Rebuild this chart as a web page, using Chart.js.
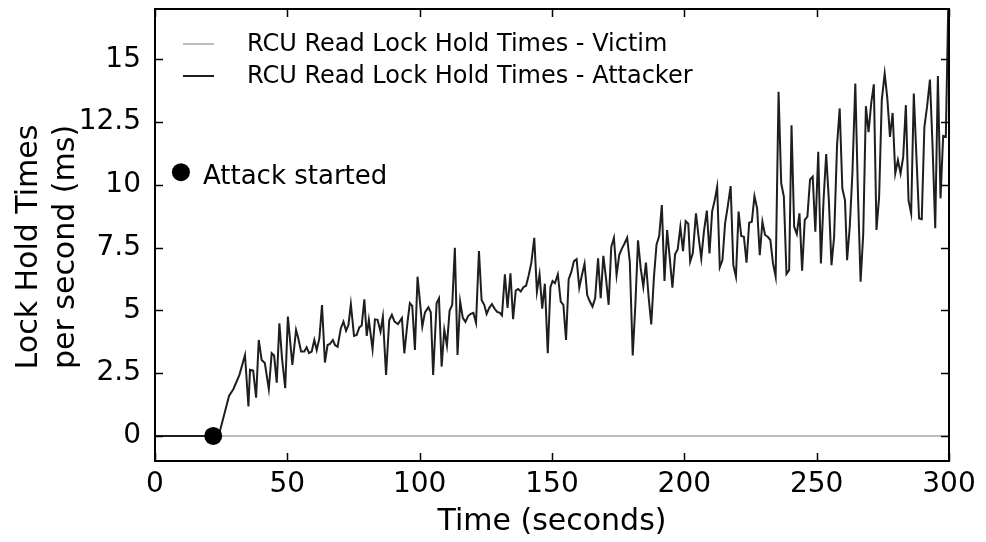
<!DOCTYPE html>
<html>
<head>
<meta charset="utf-8">
<script src="https://cdn.jsdelivr.net/npm/chart.js@4/dist/chart.umd.min.js"></script>
<style>
  html, body { margin: 0; padding: 0; background: #fff; }
  #wrap { width: 986px; height: 542px; }
</style>
</head>
<body>
<div id="wrap"><canvas id="lockChart" width="986" height="542"></canvas></div>
<script>
// axis ticks
const xTicks = [0, 50, 100, 150, 200, 250, 300];
const yTicks = [0, 2.5, 5, 7.5, 10, 12.5, 15];
const yTickLabels = ['0', '2.5', '5', '7.5', '10', '12.5', '15'];
const yTitleLines = ['Lock Hold Times', 'per second (ms)'];

// victim stays flat for the whole run
const victimTimes = [0, 300];
const victimValues = [0, 0];

// attacker hold times (ms per second)
const attackTimes = [
  0, 22, 24.3, 28, 29.6, 31.9, 34, 35.3, 35.9, 37.1, 38.2, 39.2, 40.3, 41.5, 43, 44.1, 45, 46, 47, 48,
  49.2, 50.2, 51.9, 53.3, 54, 55.2, 56.4, 57.3, 58.2, 59.2, 60.2, 61.1, 62.1, 63.1, 64.2, 65.2, 66.1, 67.2, 68, 69,
  70.2, 71.2, 72.2, 73.1, 74, 75.2, 76.2, 77.2, 78.1, 79.1, 80, 80.8, 82.2, 83.1, 84.1, 85.2, 86.1, 87.3, 88.5, 89.5,
  90.5, 91.8, 93.3, 94.2, 95.4, 96.3, 97.2, 98.2, 99.2, 101, 102, 103.3, 104.2, 105.1, 106.4, 107.3, 108.3, 109.3, 110.3, 111.3,
  112.3, 113.3, 114.3, 115.3, 116.3, 117.3, 118.3, 119.3, 120.3, 121.3, 122.4, 123.4, 124.4, 125.3, 126.3, 127.3, 128.3, 129.3, 130.3, 131.1,
  132.2, 133.2, 134.3, 135.3, 136.3, 137.2, 138.2, 139.2, 140.2, 141.2, 142.2, 143.3, 144.3, 145.3, 146.3, 147.3, 148.4, 149.4, 150.2, 151.1,
  152.2, 153.3, 154.3, 155.3, 156.3, 157.3, 158.3, 159.3, 160.3, 161.3, 162.3, 163.3, 164.3, 165.3, 166.3, 167.4, 168.4, 169.4, 170.4, 171.4,
  172.4, 173.4, 174.4, 175.4, 176.4, 177.4, 178.4, 179.4, 180.5, 181.5, 182.5, 183.5, 184.5, 185.5, 186.5, 187.5, 188.5, 189.5, 190.5, 191.5,
  192.5, 193.5, 194.5, 195.5, 196.5, 197.5, 198.5, 199.5, 200.5, 201.5, 202.2, 203.2, 204.4, 205.4, 206.4, 207.4, 208.5, 209.5, 210.5, 211.5,
  212.4, 213.4, 214.4, 215.4, 216.4, 217.5, 218.5, 219.5, 220.5, 221.5, 222.5, 223.5, 224.5, 225.5, 226.5, 227.5, 228.5, 229.5, 230.5, 231.5,
  232.5, 233.5, 234.5, 235.6, 236.6, 237.6, 238.6, 239.6, 240.5, 241.5, 242.5, 243.5, 244.5, 245.5, 246.5, 247.5, 248.5, 249.5, 250.6, 251.6,
  252.6, 253.6, 254.6, 255.6, 256.6, 257.7, 258.7, 259.7, 260.7, 261.5, 262.5, 263.5, 264.6, 265.6, 266.6, 267.6, 268.6, 269.6, 270.6, 271.6,
  272.6, 273.6, 274.6, 275.7, 276.7, 277.7, 278.7, 279.7, 280.7, 281.7, 282.7, 283.7, 284.7, 285.7, 286.7, 287.7, 288.7, 289.7, 290.7, 291.7,
  292.8, 293.8, 294.8, 295.8, 296.8, 297.8, 298.8, 299.8
];
const attackValues = [
  0, 0, 0.1, 1.6, 1.86, 2.43, 3.22, 1.17, 2.63, 2.6, 1.52, 3.82, 3.02, 2.9, 1.86, 3.29, 3.2, 2.12, 4.48, 3.08,
  1.9, 4.75, 2.83, 4.22, 3.95, 3.36, 3.36, 3.53, 3.3, 3.36, 3.82, 3.42, 3.88, 5.21, 2.92, 3.62, 3.66, 3.82, 3.62, 3.55,
  4.28, 4.55, 4.19, 4.42, 5.25, 3.98, 4.02, 4.32, 4.4, 5.44, 3.98, 4.62, 3.45, 4.64, 4.62, 4.15, 4.75, 2.43, 4.6, 4.82,
  4.55, 4.45, 4.69, 3.29, 4.52, 5.29, 5.18, 3.42, 6.34, 4.35, 4.92, 5.12, 4.92, 2.43, 5.28, 5.48, 2.76, 4.22, 3.6, 4.98,
  5.22, 7.49, 3.22, 5.35, 4.7, 4.54, 4.77, 4.86, 4.9, 4.5, 7.36, 5.41, 5.22, 4.86, 5.1, 5.25, 5.07, 4.94, 4.9, 4.8,
  6.43, 5.1, 6.47, 4.65, 5.79, 5.85, 5.75, 5.92, 5.98, 6.4, 6.9, 7.89, 5.74, 6.43, 5.07, 6.06, 3.29, 5.92, 6.17, 6.08,
  6.43, 5.35, 5.22, 3.82, 6.24, 6.53, 6.96, 7.04, 5.9, 6.4, 6.86, 5.61, 5.35, 5.15, 5.48, 7.07, 5.48, 7.17, 6.28, 5.22,
  7.53, 7.89, 6.4, 7.2, 7.46, 7.66, 7.89, 6.93, 3.2, 5.22, 7.79, 6.69, 5.94, 6.9, 5.54, 4.44, 6.3, 7.62, 7.96, 9.19,
  6.17, 8.2, 7.07, 5.9, 7.23, 7.43, 8.32, 7.36, 8.55, 8.45, 6.94, 7.27, 8.86, 7.93, 7.07, 8.13, 8.97, 7.27, 8.93, 9.4,
  9.92, 6.71, 7.0, 8.46, 9.13, 9.95, 6.81, 6.34, 8.93, 7.96, 7.93, 6.9, 8.49, 8.53, 9.55, 9.06, 7.2, 8.53, 8.0, 7.93,
  7.8, 6.87, 6.34, 13.7, 10.06, 9.53, 6.45, 6.6, 12.37, 8.33, 8.04, 8.86, 6.58, 8.6, 8.73, 10.21, 10.32, 8.13, 11.31, 6.87,
  9.39, 11.22, 9.39, 6.8, 7.93, 11.58, 13.04, 9.85, 9.39, 7.0, 8.33, 10.45, 14.03, 9.65, 6.14, 8.06, 13.13, 12.1, 13.24, 14.0,
  8.2, 9.52, 13.37, 14.43, 13.44, 11.91, 12.86, 10.45, 10.98, 10.45, 11.11, 13.17, 9.39, 8.86, 13.63, 11.11, 8.66, 8.63, 12.3, 13.1,
  14.19, 11.51, 8.27, 14.33, 9.46, 11.95, 11.91, 17.6
];

// attack start marker on the curve, and the key marker beside its caption
const startTimes = [22];
const startValues = [0];
const keyTimes = [9.8];
const keyValues = [10.5];
const keyCaption = 'Attack started';

const FONT = 'DejaVu Sans';
const VICTIM_COLOR = '#bdbdbd';
const ATTACK_COLOR = '#1e1e1e';

const toPoints = (xs, ys) => xs.map((x, i) => ({ x: x, y: ys[i] }));

// box outline, inward ticks on all four sides, y title, legend and caption
const framePlugin = {
  id: 'frame',
  afterDraw(chart) {
    const ctx = chart.ctx;
    const a = chart.chartArea;
    const xs = chart.scales.x, ys = chart.scales.y;
    const len = 8;
    ctx.save();
    ctx.strokeStyle = '#000';
    ctx.lineWidth = 1.5;
    ctx.beginPath();
    xTicks.forEach(v => {
      const px = Math.round(xs.getPixelForValue(v)) + 0.5;
      ctx.moveTo(px, a.bottom); ctx.lineTo(px, a.bottom - len);
      ctx.moveTo(px, a.top); ctx.lineTo(px, a.top + len);
    });
    yTicks.forEach(v => {
      const py = Math.round(ys.getPixelForValue(v)) + 0.5;
      ctx.moveTo(a.left, py); ctx.lineTo(a.left + len, py);
      ctx.moveTo(a.right, py); ctx.lineTo(a.right - len, py);
    });
    ctx.stroke();
    ctx.lineWidth = 2;
    ctx.strokeRect(a.left, a.top, a.right - a.left, a.bottom - a.top);

    ctx.fillStyle = '#000';
    ctx.textBaseline = 'middle';

    // rotated y-axis title, two lines
    ctx.save();
    ctx.font = '30px "' + FONT + '"';
    ctx.textAlign = 'center';
    ctx.translate(0, (a.top + a.bottom) / 2 + 12);
    ctx.rotate(-Math.PI / 2);
    yTitleLines.forEach((t, i) => ctx.fillText(t, 0, 29 + i * 37));
    ctx.restore();

    // legend
    const rows = [chart.data.datasets[0], chart.data.datasets[1]];
    ctx.font = '24px "' + FONT + '"';
    rows.forEach((ds, i) => {
      const y = a.top + 35 + i * 32;
      ctx.strokeStyle = ds.borderColor;
      ctx.lineWidth = 2;
      ctx.beginPath();
      ctx.moveTo(a.left + 28, y); ctx.lineTo(a.left + 59, y);
      ctx.stroke();
      ctx.fillText(ds.label, a.left + 92, y + 1);
    });

    // caption next to the key marker
    ctx.font = '26px "' + FONT + '"';
    const kx = xs.getPixelForValue(keyTimes[0]);
    const ky = ys.getPixelForValue(keyValues[0]);
    ctx.fillText(keyCaption, kx + 22, ky + 5);
    ctx.restore();
  }
};

new Chart(document.getElementById('lockChart'), {
  type: 'line',
  data: {
    datasets: [
      {
        label: 'RCU Read Lock Hold Times - Victim',
        data: toPoints(victimTimes, victimValues),
        borderColor: VICTIM_COLOR,
        borderWidth: 2,
        pointRadius: 0,
        tension: 0,
        order: 3
      },
      {
        label: 'RCU Read Lock Hold Times - Attacker',
        data: toPoints(attackTimes, attackValues),
        borderColor: ATTACK_COLOR,
        borderWidth: 2,
        pointRadius: 0,
        tension: 0,
        order: 2
      },
      {
        label: 'start',
        data: toPoints(startTimes, startValues).concat(toPoints(keyTimes, keyValues)),
        showLine: false,
        pointRadius: 9,
        pointBackgroundColor: '#000',
        pointBorderColor: '#000',
        pointBorderWidth: 0,
        clip: false,
        order: 1
      }
    ]
  },
  options: {
    responsive: false,
    animation: false,
    devicePixelRatio: 1,
    layout: { padding: { top: 8, right: 37, bottom: 0, left: 0 } },
    plugins: { legend: { display: false }, tooltip: { enabled: false } },
    scales: {
      x: {
        type: 'linear',
        min: 0,
        max: 300,
        grid: { display: false },
        border: { display: false },
        afterBuildTicks: s => { s.ticks = xTicks.map(v => ({ value: v })); },
        afterFit: s => { s.height = 81; },
        ticks: {
          padding: -1,
          color: '#000',
          maxRotation: 0,
          font: { family: FONT, size: 28 }
        },
        title: {
          display: true,
          text: 'Time (seconds)',
          color: '#000',
          font: { family: FONT, size: 30 },
          padding: { top: 0, bottom: 2 }
        }
      },
      y: {
        type: 'linear',
        min: -1,
        max: 17,
        grid: { display: false },
        border: { display: false },
        afterBuildTicks: s => { s.ticks = yTicks.map(v => ({ value: v })); },
        afterFit: s => { s.width = 155; s.paddingTop = 0; s.paddingBottom = 0; },
        ticks: {
          padding: 6,
          color: '#000',
          font: { family: FONT, size: 28 },
          callback: (v, i) => yTickLabels[i]
        },
        title: { display: false }
      }
    }
  },
  plugins: [framePlugin]
});
</script>
</body>
</html>
